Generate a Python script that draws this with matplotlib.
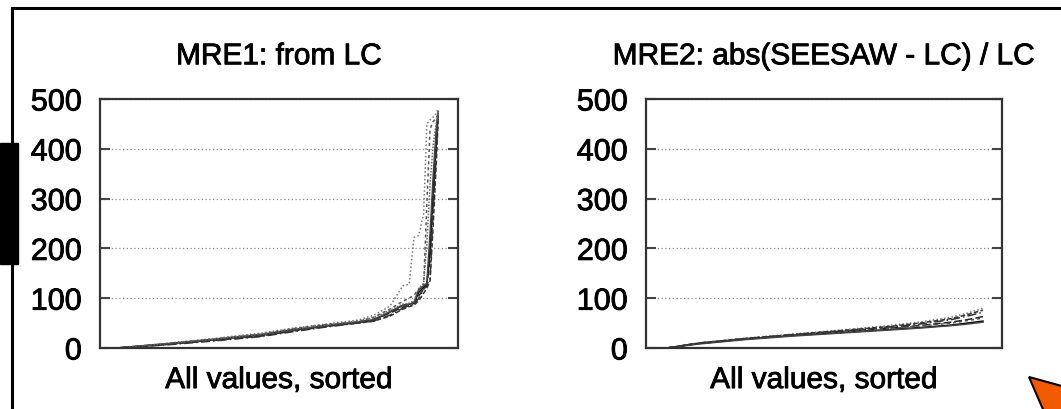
import matplotlib.pyplot as plt
import matplotlib.patheffects as pe
from matplotlib.lines import Line2D
from matplotlib.patches import Polygon, Rectangle

plt.rcParams['font.family'] = ['Liberation Sans', 'DejaVu Sans']

# sorted error values per run, sampled at rank positions (percent of all values)
rank1 = [0, 15, 30, 45, 55, 65, 75, 80, 85, 89, 91, 92.5, 94, 95.5, 96.5, 97.5, 98.5, 99.5, 100]
mre1_a = [0, 8, 17, 27, 37, 44, 51, 56, 72, 86, 88, 90, 112, 122, 128, 200, 320, 430, 470]
mre1_b = [0, 7, 15, 24, 35, 45, 52, 58, 70, 82, 85, 90, 105, 118, 125, 180, 300, 420, 465]
mre1_c = [0, 9, 19, 30, 40, 48, 56, 66, 84, 125, 128, 222, 226, 270, 450, 458, 464, 472, 480]
mre1_d = [0, 8, 18, 28, 39, 47, 53, 62, 78, 94, 100, 106, 118, 125, 290, 440, 455, 462, 470]
mre1_e = [0, 6, 14, 23, 33, 42, 50, 54, 66, 80, 85, 88, 100, 118, 126, 140, 280, 400, 460]
mre1_f = [0, 8, 16, 26, 36, 45, 52, 57, 73, 85, 88, 92, 118, 125, 130, 230, 350, 445, 475]
mre1_g = [0, 7, 16, 25, 34, 43, 50, 54, 64, 78, 83, 86, 95, 110, 120, 135, 250, 380, 455]
mre1_h = [0, 9, 18, 28, 38, 46, 54, 61, 76, 88, 90, 95, 120, 130, 210, 330, 410, 455, 472]

rank2 = [0, 10, 25, 40, 55, 70, 80, 90, 95, 100]
mre2_a = [0, 9, 18, 25, 31, 37, 41, 46, 50, 54]
mre2_b = [0, 10, 19, 26, 33, 40, 45, 52, 57, 63]
mre2_c = [0, 10, 20, 28, 36, 45, 52, 62, 70, 80]
mre2_d = [0, 9, 18, 26, 32, 39, 44, 50, 55, 60]
mre2_e = [0, 10, 19, 27, 34, 42, 48, 57, 64, 72]
mre2_f = [0, 8, 17, 24, 30, 36, 40, 45, 48, 52]
mre2_g = [0, 9, 19, 27, 35, 43, 50, 59, 67, 76]

yticks = [0, 100, 200, 300, 400, 500]

styles = [
    dict(color='black', ls='-'),
    dict(color='#222222', ls=(0, (5, 2))),
    dict(color='#777777', ls=(0, (1, 1.5))),
    dict(color='#555555', ls=(0, (2, 2))),
    dict(color='#333333', ls=(0, (6, 2, 1, 2))),
    dict(color='#444444', ls='-'),
    dict(color='#333333', ls=(0, (3, 1.5))),
    dict(color='#666666', ls=(0, (1, 1))),
]

# slightly heavier glyphs
heavy = [pe.withStroke(linewidth=0.6, foreground='black')]

fig = plt.figure(figsize=(10.61, 4.09), dpi=100)
W, H = 1061, 409


def px_axes(x0, x1, y0, y1):
    return fig.add_axes([x0 / W, 1 - y1 / H, (x1 - x0) / W, (y1 - y0) / H])


def style_axes(ax, title, xlim):
    ax.set_xlim(*xlim)
    ax.set_ylim(0, 500)
    ax.set_yticks(yticks)
    ax.set_xticks([])
    ax.grid(axis='y', color='#888888', ls=(0, (1, 2)), lw=0.9)
    ax.set_axisbelow(True)
    for s in ax.spines.values():
        s.set_color('#333333')
        s.set_linewidth(1.6)
    ax.tick_params(axis='y', direction='in', length=7, width=1.5, color='#444444',
                   right=True, labelsize=22, pad=13)
    for lab in ax.get_yticklabels():
        lab.set_path_effects(heavy)
    t = ax.set_title(title, fontsize=21.5, pad=25)
    t.set_path_effects(heavy)
    xl = ax.set_xlabel('All values, sorted', fontsize=21.5, labelpad=13)
    xl.set_path_effects(heavy)


ax1 = px_axes(100, 458, 99, 348)
for y, st in zip([mre1_a, mre1_b, mre1_c, mre1_d, mre1_e, mre1_f, mre1_g, mre1_h], styles):
    ax1.plot(rank1, y, lw=1.1, **st)
style_axes(ax1, 'MRE1: from LC', (-5.3, 106.2))

ax2 = px_axes(646, 1002, 99, 348)
for y, st in zip([mre2_a, mre2_b, mre2_c, mre2_d, mre2_e, mre2_f, mre2_g], styles):
    ax2.plot(rank2, y, lw=1.1, **st)
style_axes(ax2, 'MRE2: abs(SEESAW - LC) / LC', (-6.6, 106))

# slide frame, side marker and pointer
fig.add_artist(Line2D([12 / W, 1], [1 - 7.5 / H, 1 - 7.5 / H], color='black', lw=2.2,
                      transform=fig.transFigure))
fig.add_artist(Line2D([12 / W, 12 / W], [0, 1 - 7.5 / H], color='black', lw=2.2,
                      transform=fig.transFigure))
fig.add_artist(Rectangle((0, 1 - 264 / H), 18 / W, 121 / H, color='black',
                         transform=fig.transFigure))
tri = [(1029, 377), (1080, 391), (1052, 430)]
fig.add_artist(Polygon([(x / W, 1 - y / H) for x, y in tri], closed=True,
                       facecolor='#f25a00', edgecolor='black', lw=1.5,
                       transform=fig.transFigure))

fig.savefig('out.png', dpi=100)
